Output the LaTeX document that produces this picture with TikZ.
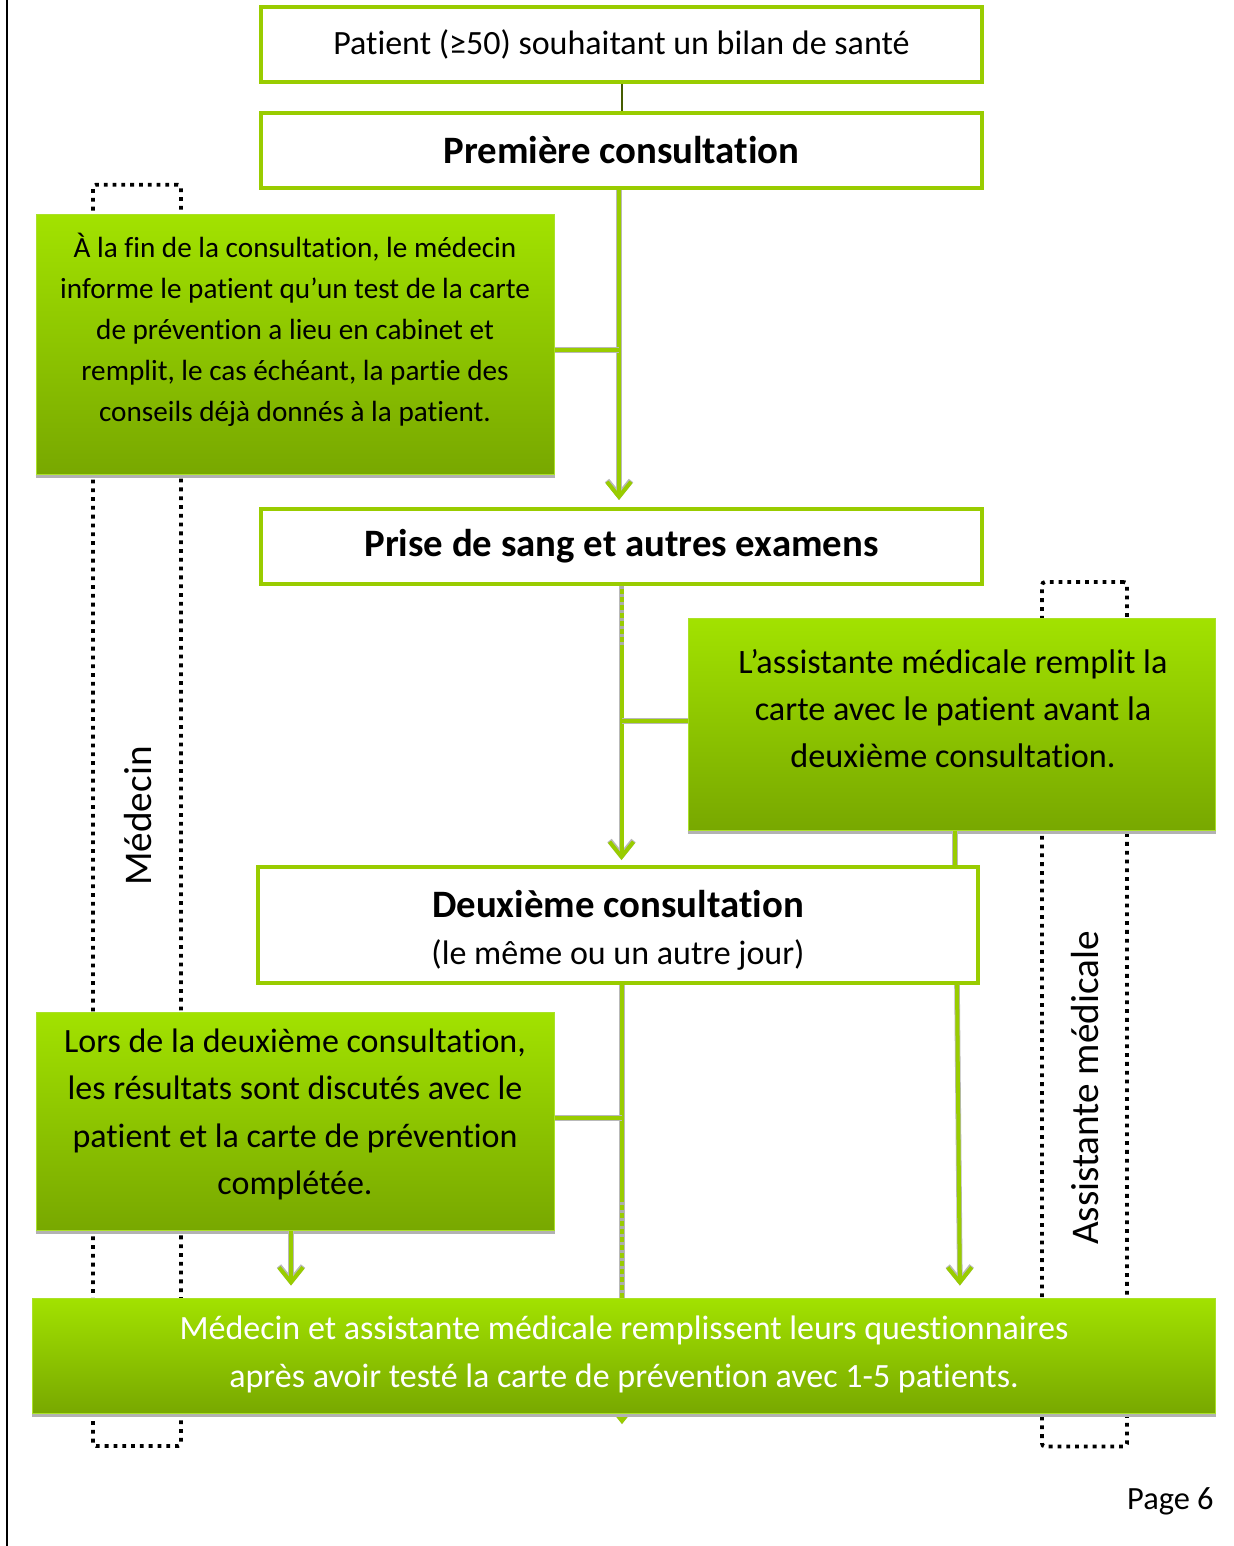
\documentclass[tikz,border=0pt]{standalone}
\usepackage{fontspec}
\setmainfont{Carlito}[Ligatures=NoCommon]
\usetikzlibrary{arrows.meta}
\pgfdeclarelayer{background}
\pgfsetlayers{background,main}
\definecolor{lgreen}{RGB}{153,204,0}
\definecolor{gtop}{RGB}{162,226,0}
\definecolor{gbot}{RGB}{120,168,0}
\definecolor{gedge}{RGB}{170,225,40}
\begin{document}
\begin{tikzpicture}[x=0.5pt,y=-0.5pt,
  whitebox/.style={draw=lgreen, line width=2pt, fill=white, inner sep=0pt,
    minimum width=360.5pt, minimum height=37.5pt},
  greenbox/.style={draw=gedge, line width=0.5pt, top color=gtop, bottom color=gbot, inner sep=0pt},
  frame/.style={draw=black, line width=1.9pt, dash pattern=on 1.9pt off 2.5pt, rounded corners=1.5pt, inner sep=0pt},
  conn/.style={draw=lgreen, line width=2pt, preaction={draw=gray!55, line width=2.8pt}},
  arrowline/.style={conn, -{Straight Barb[length=7.5pt,width=12pt]}},
  dashover/.style={draw=gray!65, line width=2pt, dash pattern=on 1.5pt off 2.5pt},
  shadowline/.style={draw=gray!60, line width=1.2pt},
  plain/.style={font=\fontsize{17}{20}\selectfont},
  head/.style={font=\fontsize{19.4}{23}\selectfont\bfseries},
  rotlabel/.style={rotate=90, font=\fontsize{19.6}{23}\selectfont}
]
\useasboundingbox (0,0) rectangle (1234,1546);
\draw[line width=1pt] (7,0) coordinate (bl1) -- (7,1546) coordinate (bl2);

% dotted frames
\begin{pgfonlayer}{background}
\node[frame, minimum width=44pt, minimum height=630.65pt] (frameL) at (137,815.35) {};
\node[frame, minimum width=42.5pt, minimum height=432.25pt] (frameR) at (1084.5,1014.25) {};
\end{pgfonlayer}
\node[rotlabel] (labL) at (138,816) {Médecin};
\node[rotlabel] (labR) at (1085,1088) {Assistante médicale};

% white boxes
\node[whitebox, plain] (b1) at (621.5,44.5) {Patient (≥50) souhaitant un bilan de santé};
\node[whitebox, head] (b2) at (621.5,150.5) {Première consultation};
\node[whitebox, head] (b3) at (621.5,546.5) {Prise de sang et autres examens};
\node[whitebox, minimum width=360pt, minimum height=58pt] (b4) at (618,925) {};
\node[head] (b4t) at (618,904) {Deuxième consultation};
\node[plain] (b4s) at (618,955) {(le même ou un autre jour)};

% green boxes
\node[greenbox, minimum width=259pt, minimum height=129.5pt] (gA) at (295,344.5) {};
\node[align=center, font=\fontsize{14.6}{20.5}\selectfont] (gAt) at (295,330)
  {À la fin de la consultation, le médecin\\informe le patient qu’un test de la carte\\de prévention a lieu en cabinet et\\remplit, le cas échéant, la partie des\\conseils déjà donnés à la patient.};
\node[greenbox, minimum width=263.5pt, minimum height=106pt] (gB) at (951.5,724) {};
\node[align=center, font=\fontsize{17.1}{23.5}\selectfont] (gBt) at (953,709)
  {L’assistante médicale remplit la\\carte avec le patient avant la\\deuxième consultation.};
\node[greenbox, minimum width=259pt, minimum height=109pt] (gC) at (295,1121) {};
\node[align=center, font=\fontsize{17}{23.75}\selectfont] (gCt) at (295,1114.5)
  {Lors de la deuxième consultation,\\les résultats sont discutés avec le\\patient et la carte de prévention\\complétée.};

% arrow behind bottom box
\coordinate (v5top) at ([xshift=2pt]b4.south);
\coordinate (v5end) at (622,1424);
\begin{pgfonlayer}{background}
\draw[arrowline] (v5top) -- (v5end);
\end{pgfonlayer}

\node[greenbox, minimum width=591.5pt, minimum height=57.5pt] (gE) at (623.5,1355.5) {};
\node[align=center, text=white, font=\fontsize{17}{24}\selectfont] (gEt) at (624,1354)
  {Médecin et assistante médicale remplissent leurs questionnaires\\après avoir testé la carte de prévention avec 1-5 patients.};

% shadows under green boxes
\draw[shadowline] ([yshift=-0.9pt]gA.south west) -- ([yshift=-0.9pt]gA.south east);
\draw[shadowline] ([yshift=-0.9pt]gB.south west) -- ([yshift=-0.9pt]gB.south east);
\draw[shadowline] ([yshift=-0.9pt]gC.south west) -- ([yshift=-0.9pt]gC.south east);
\draw[shadowline] ([yshift=-0.9pt]gE.south west) -- ([yshift=-0.9pt]gE.south east);

% connectors
\draw[draw=black!55!lgreen, line width=1pt] (b1.south) -- (b2.north);
\coordinate (v1) at ([xshift=-1.25pt]b2.south);
\draw[arrowline, shorten >=3.5pt] (v1) -- (v1 |- b3.north);
\draw[conn] ([yshift=-2.75pt]gA.east) -- ([yshift=-2.75pt]gA.east -| v1);

\coordinate (v2) at (b3.south);
\draw[arrowline, shorten >=2.5pt] (v2) -- (v2 |- b4.north);
\draw[dashover] (v2) -- ++(0,64);
\draw[conn] ([yshift=1.5pt]gB.west) -- ([yshift=1.5pt]gB.west -| v2);

\coordinate (v3) at ([xshift=1.75pt]gB.south);
\draw[conn] (v3) -- (v3 |- b4.north);
\coordinate (v4) at ([xshift=169.5pt]b4.south);
\coordinate (v4e) at ([xshift=168.25pt]gE.north);
\draw[arrowline, shorten >=6pt] (v4) -- (v4e);

\coordinate (vc) at ([xshift=-2pt]gC.south);
\draw[arrowline, shorten >=6pt] (vc) -- (vc |- gE.north);
\draw[conn] ([yshift=1.5pt]gC.east) -- ([yshift=1.5pt]gC.east -| v5top);
\draw[dashover] ([yshift=48pt]v5top |- gE.north) -- (v5top |- gE.north);

\node[anchor=east, inner sep=0pt, font=\fontsize{16.2}{20}\selectfont] (page) at (1214,1501) {Page 6};
\end{tikzpicture}
\end{document}
